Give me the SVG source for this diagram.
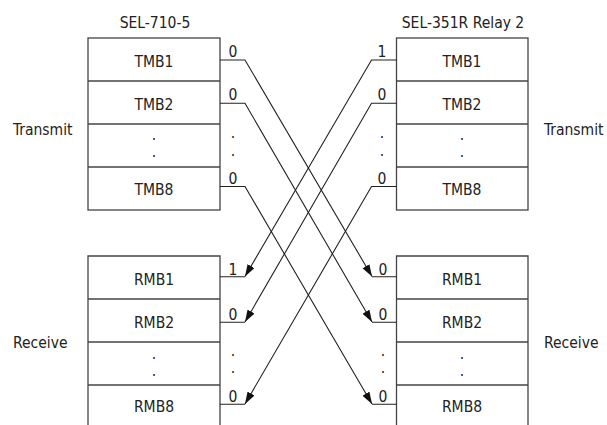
<svg xmlns="http://www.w3.org/2000/svg" width="607" height="425" viewBox="0 0 607 425">
<style>
text{font-family:"DejaVu Sans Condensed","DejaVu Sans",sans-serif;font-size:15.5px;fill:#222;}
.c{text-anchor:middle;}
.box{fill:#fff;stroke:#444;stroke-width:1.3;}
.row{stroke:#444;stroke-width:1.3;fill:none;}
.wire{stroke:#222;stroke-width:1.1;fill:none;}
</style>
<defs>
<marker id="ah" markerUnits="userSpaceOnUse" markerWidth="13" markerHeight="9" refX="12" refY="4" orient="auto">
<path d="M0,0 L12,4 L0,8 z" fill="#111"/>
</marker>
</defs>
<text x="155" y="28" class="c">SEL-710-5</text>
<text x="463" y="28" class="c">SEL-351R Relay 2</text>
<text x="13" y="135">Transmit</text>
<text x="544" y="135">Transmit</text>
<text x="13" y="348">Receive</text>
<text x="544" y="348">Receive</text>
<g id="sel710-transmit">
<rect class="box" x="88" y="38" width="132" height="172"/>
<path class="row" d="M88,81H220M88,124H220M88,167H220"/>
<text x="154" y="66.5" class="c">TMB1</text>
<text x="154" y="110" class="c">TMB2</text>
<text x="154" y="140" class="c">.</text>
<text x="154" y="157" class="c">.</text>
<text x="154" y="195" class="c">TMB8</text>
</g>
<g id="relay2-transmit">
<rect class="box" x="396.5" y="38" width="131.5" height="172"/>
<path class="row" d="M396.5,81H528M396.5,124H528M396.5,167H528"/>
<text x="462" y="66.5" class="c">TMB1</text>
<text x="462" y="110" class="c">TMB2</text>
<text x="462" y="140" class="c">.</text>
<text x="462" y="157" class="c">.</text>
<text x="462" y="195" class="c">TMB8</text>
</g>
<g id="sel710-receive">
<path class="box" d="M88,426V256H220V426"/>
<path class="row" d="M88,299H220M88,342H220M88,385H220"/>
<text x="154" y="285" class="c">RMB1</text>
<text x="154" y="328" class="c">RMB2</text>
<text x="154" y="359" class="c">.</text>
<text x="154" y="375.5" class="c">.</text>
<text x="154" y="411.5" class="c">RMB8</text>
</g>
<g id="relay2-receive">
<path class="box" d="M396.5,426V256H528V426"/>
<path class="row" d="M396.5,299H528M396.5,342H528M396.5,385H528"/>
<text x="462" y="285" class="c">RMB1</text>
<text x="462" y="328" class="c">RMB2</text>
<text x="462" y="359" class="c">.</text>
<text x="462" y="375.5" class="c">.</text>
<text x="462" y="411.5" class="c">RMB8</text>
</g>
<g id="connectors">
<path class="wire" d="M220,60H245L372,276.5" marker-end="url(#ah)"/>
<path class="wire" d="M220,103.3H245L372,322" marker-end="url(#ah)"/>
<path class="wire" d="M220,186.5H245L372,404" marker-end="url(#ah)"/>
<path class="wire" d="M396.5,60H371.5L245,276.5" marker-end="url(#ah)"/>
<path class="wire" d="M396.5,103.3H371.5L245,322" marker-end="url(#ah)"/>
<path class="wire" d="M396.5,186.5H371.5L245,404" marker-end="url(#ah)"/>
<path class="wire" d="M220,276.7H245M220,322.3H245M220,404.3H245M372,276.7H396.5M372,322.3H396.5M372,404.3H396.5"/>
<text x="233" y="57" class="c">0</text>
<text x="233" y="100" class="c">0</text>
<text x="233" y="138" class="c">.</text>
<text x="233" y="155.5" class="c">.</text>
<text x="233" y="183.5" class="c">0</text>
<text x="382" y="57" class="c">1</text>
<text x="382" y="100" class="c">0</text>
<text x="382" y="138" class="c">.</text>
<text x="382" y="155.5" class="c">.</text>
<text x="382" y="183.5" class="c">0</text>
<text x="233" y="274.5" class="c">1</text>
<text x="233" y="320" class="c">0</text>
<text x="233" y="356" class="c">.</text>
<text x="233" y="372.5" class="c">.</text>
<text x="233" y="402" class="c">0</text>
<text x="383" y="274.5" class="c">0</text>
<text x="383" y="320" class="c">0</text>
<text x="383" y="356" class="c">.</text>
<text x="383" y="372.5" class="c">.</text>
<text x="383" y="402" class="c">0</text>
</g>
</svg>
